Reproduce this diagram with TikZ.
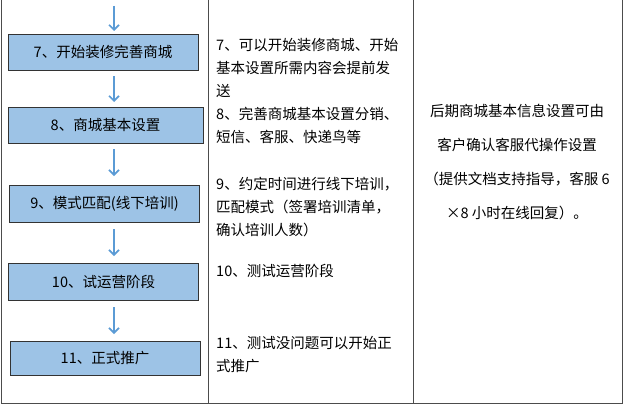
\documentclass[tikz,border=0pt]{standalone}
\usepackage{fontspec}
\setmainfont{Noto Sans CJK SC}
\usetikzlibrary{arrows.meta}
\definecolor{boxfill}{HTML}{9DC3E6}
\definecolor{arrowblue}{HTML}{5B9BD5}
\tikzset{
  stepbox/.style={draw=black!80, fill=boxfill, minimum width=190pt, minimum height=36pt, font=\fontsize{14.5pt}{16pt}\selectfont, inner sep=0pt},
  flowarrow/.style={draw=arrowblue, line width=1.6pt, -{Straight Barb[length=5pt,width=10pt]}},
  celltext/.style={anchor=north west, align=left, font=\fontsize{14.5pt}{23pt}\selectfont, inner sep=0pt},
}
\begin{document}
\begin{tikzpicture}[x=1pt, y=-1pt]
\useasboundingbox (0,0) rectangle (623,404);
% table lines
\draw[black!70] (1,0) -- (1,403) -- (622,403) -- (622,0);
\draw[black!70] (208,0) -- (208,403);
\draw[black!70] (413,0) -- (413,403);
% boxes
\node[stepbox] (s7) at (103,52) {7、开始装修完善商城};
\node[stepbox, minimum width=195pt] (s8) at (105.5,125) {8、商城基本设置};
\node[stepbox, minimum height=37pt] (s9) at (104.5,203.5) {9、模式匹配(线下培训)};
\node[stepbox, minimum height=37pt] (s10) at (103.5,281.5) {10、试运营阶段};
\node[stepbox, minimum height=34pt] (s11) at (105,358.5) {11、正式推广};
% arrows
\coordinate (top) at (114,6);
\draw[flowarrow] (top) -- (114,31);
\draw[flowarrow] (114,76) -- (114,102);
\draw[flowarrow] (114,149) -- (114,176);
\draw[flowarrow] (114,229) -- (114,256);
\draw[flowarrow] (114,307) -- (114,334);
% middle column
\node[celltext] (t7) at (216,38) {7、可以开始装修商城、开始\\基本设置所需内容会提前发\\送\\8、完善商城基本设置分销、\\短信、客服、快递鸟等};
\node[celltext] (t9) at (216,177) {9、约定时间进行线下培训，\\匹配模式（签署培训清单，\\确认培训人数）};
\node[celltext] (t10) at (216,264) {10、测试运营阶段};
\node[celltext] (t11) at (216,336) {11、测试没问题可以开始正\\式推广};
% right column
\node[align=center, font=\fontsize{14.5pt}{34pt}\selectfont, inner sep=0pt] (note) at (517,162) {后期商城基本信息设置可由\\客户确认客服代操作设置\\（提供文档支持指导，客服 6\\×8 小时在线回复）。};
\end{tikzpicture}
\end{document}
